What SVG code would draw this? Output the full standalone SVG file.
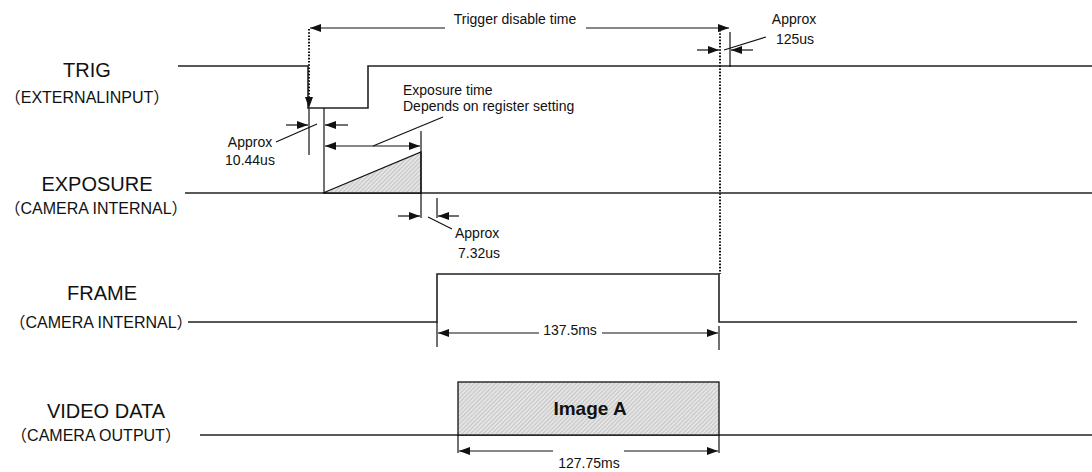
<svg xmlns="http://www.w3.org/2000/svg" width="1092" height="472" viewBox="0 0 1092 472">
<style>
.sig{fill:none;stroke:#222;stroke-width:1.6}
.ln{fill:none;stroke:#111;stroke-width:1.2}
.ar{fill:none;stroke:#111;stroke-width:1.2;marker-end:url(#ah)}
.dot{fill:none;stroke:#111;stroke-width:2;stroke-dasharray:1.6 1.6}
.lab{font-family:"Liberation Sans","Noto Sans CJK JP",sans-serif;font-size:20px;fill:#111;text-anchor:middle}
.sub{font-family:"Liberation Sans","Noto Sans CJK JP",sans-serif;font-size:16px;fill:#111;text-anchor:middle}
.ann{font-family:"Liberation Sans","Noto Sans CJK JP",sans-serif;font-size:14px;fill:#111}
.hat{fill:url(#hatch);stroke:#111;stroke-width:1.3}
</style>
<defs>
<marker id="ah" markerUnits="userSpaceOnUse" markerWidth="11" markerHeight="8" refX="11" refY="4" orient="auto">
<path d="M0,0 L11,4 L0,8 z" fill="#111"/>
</marker>
<pattern id="hatch" patternUnits="userSpaceOnUse" width="3" height="3" patternTransform="rotate(45)">
<rect width="3" height="3" fill="#e4e4e4"/>
<line x1="0" y1="0" x2="0" y2="3" stroke="#b0b0b0" stroke-width="1.2"/>
</pattern>
</defs>
<rect width="1092" height="472" fill="#fff"/>

<g id="trig">
<text class="lab" x="87" y="77">TRIG</text>
<text class="sub" x="87" y="103">（EXTERNALINPUT）</text>
<polyline class="sig" points="178,66 308,66 308,108 368,108 368,66 1092,66"/>
</g>

<g id="exposure">
<text class="lab" x="97" y="191">EXPOSURE</text>
<text class="sub" x="96" y="214">（CAMERA INTERNAL）</text>
<line class="sig" x1="185" y1="193" x2="1092" y2="193"/>
<polygon class="hat" points="323,193 421,152 421,193"/>
</g>

<g id="frame">
<text class="lab" x="102" y="300">FRAME</text>
<text class="sub" x="101" y="328">（CAMERA INTERNAL）</text>
<polyline class="sig" points="188,322 437,322 437,274 719,274 719,322 1077,322"/>
</g>

<g id="video">
<text class="lab" x="106" y="418">VIDEO DATA</text>
<text class="sub" x="96" y="441">（CAMERA OUTPUT）</text>
<line class="sig" x1="200" y1="435" x2="1092" y2="435"/>
<rect class="hat" x="458" y="382" width="261" height="53"/>
<text x="590" y="415" font-family="Liberation Sans,'Noto Sans CJK JP',sans-serif" font-size="19" font-weight="bold" fill="#111" text-anchor="middle">Image A</text>
</g>

<g id="connectors">
<!-- trigger disable time -->
<line class="ar" x1="445" y1="28" x2="310" y2="28"/>
<line class="ar" x1="586" y1="28" x2="729" y2="28"/>
<text class="ann" x="515" y="24" text-anchor="middle" font-size="15.5">Trigger disable time</text>
<line class="dot" x1="309" y1="29" x2="309" y2="98"/>
<path d="M305,97 L313,97 L309,108 z" fill="#111"/>
<line class="dot" x1="720" y1="30" x2="720" y2="274"/>

<!-- approx 125us -->
<line class="ln" x1="730" y1="32" x2="730" y2="67"/>
<line class="ar" x1="697" y1="50" x2="719" y2="50"/>
<line class="ar" x1="753" y1="50" x2="731" y2="50"/>
<line class="ln" x1="724" y1="50" x2="766" y2="37"/>
<text class="ann" x="794" y="24" text-anchor="middle" font-size="15">Approx</text>
<text class="ann" x="795" y="44" text-anchor="middle" font-size="15">125us</text>

<!-- approx 10.44us -->
<line class="ln" x1="309" y1="108" x2="309" y2="155"/>
<line class="ln" x1="324" y1="108" x2="324" y2="193"/>
<line class="ar" x1="286" y1="125" x2="308" y2="125"/>
<line class="ar" x1="348" y1="125" x2="325" y2="125"/>
<line class="ln" x1="276" y1="142" x2="317" y2="124"/>
<text class="ann" x="250" y="147" text-anchor="middle" font-size="13.5">Approx</text>
<text class="ann" x="250" y="165" text-anchor="middle" font-size="13.5">10.44us</text>

<!-- exposure time -->
<line class="ln" x1="421" y1="131" x2="421" y2="218"/>
<line class="ar" x1="373" y1="146" x2="325" y2="146"/>
<line class="ar" x1="373" y1="146" x2="420" y2="146"/>
<line class="ln" x1="373" y1="146" x2="443" y2="117"/>
<text class="ann" x="403" y="95">Exposure time</text>
<text class="ann" x="403" y="111">Depends on register setting</text>

<!-- approx 7.32us -->
<line class="ln" x1="437" y1="198" x2="437" y2="218"/>
<line class="ar" x1="398" y1="216" x2="420" y2="216"/>
<line class="ar" x1="459" y1="216" x2="438" y2="216"/>
<line class="ln" x1="428" y1="217" x2="452" y2="229"/>
<text class="ann" x="455" y="238">Approx</text>
<text class="ann" x="458" y="258">7.32us</text>

<!-- 137.5ms -->
<line class="ln" x1="437" y1="322" x2="437" y2="347"/>
<line class="ln" x1="719" y1="326" x2="719" y2="350"/>
<line class="ar" x1="539" y1="333" x2="438" y2="333"/>
<line class="ar" x1="602" y1="333" x2="718" y2="333"/>
<text class="ann" x="570" y="335" text-anchor="middle" font-size="15">137.5ms</text>

<!-- 127.75ms -->
<line class="ln" x1="458" y1="435" x2="458" y2="453"/>
<line class="ln" x1="719" y1="435" x2="719" y2="453"/>
<line class="ar" x1="553" y1="451" x2="459" y2="451"/>
<line class="ar" x1="624" y1="451" x2="718" y2="451"/>
<text class="ann" x="589" y="468" text-anchor="middle" font-size="15">127.75ms</text>
</g>
</svg>
